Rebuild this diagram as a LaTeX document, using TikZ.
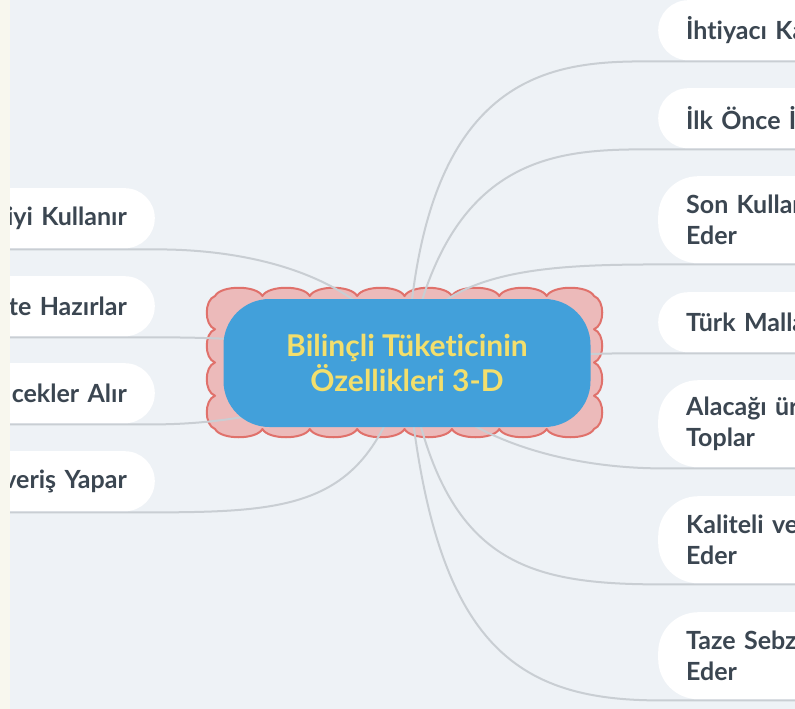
\documentclass[tikz,border=0pt]{standalone}
\usepackage{fontspec}
\setmainfont{Lato}[Ligatures=NoCommon]
\definecolor{bgc}{HTML}{EEF2F6}
\definecolor{stripc}{HTML}{F8F7EE}
\definecolor{linec}{HTML}{C9CED3}
\definecolor{txtc}{HTML}{3B4651}
\definecolor{rootblue}{HTML}{42A0DA}
\definecolor{rootyel}{HTML}{F3DF6C}
\definecolor{cloudfill}{HTML}{ECBABA}
\definecolor{cloudline}{HTML}{E0716B}
\pgfdeclarelayer{back}
\pgfdeclarelayer{mid}
\pgfsetlayers{back,mid,main}
\tikzset{
  pill/.style={fill=white, text=txtc, font=\bfseries\fontsize{25}{31}\selectfont,
    text width=200pt, inner xsep=28pt, inner ysep=0pt},
  pillone/.style={pill, rounded corners=30pt, minimum height=60pt},
  pilltwo/.style={pill, rounded corners=40pt, minimum height=87pt},
  rpill/.style={align=left, anchor=north west},
  lpill/.style={align=right, anchor=north east},
  conn/.style={draw=linec, line width=2pt},
  rootnode/.style={fill=rootblue, text=rootyel, rounded corners=46pt,
    minimum width=367pt, minimum height=128pt, inner sep=0pt, align=center,
    font=\bfseries\fontsize{30}{35}\selectfont},
  cloudshape/.style={draw=cloudline, fill=cloudfill, line width=2pt, line join=round}
}
\begin{document}
\begin{tikzpicture}[x=1pt,y=-1pt]
\useasboundingbox (0,0) rectangle (795,709);
\node[rootnode] (root) at (407,363) {Bilinçli Tüketicinin\\Özellikleri 3-D};
% right pills
\node[pillone,rpill] (r1) at (658,0) {İhtiyacı Ka};
\node[pillone,rpill] (r2) at (658,88) {İlk Önce İ};
\node[pilltwo,rpill] (r3) at (658,176) {Son Kullan\\Eder};
\node[pillone,rpill] (r4) at (658,292) {Türk Malla};
\node[pilltwo,rpill] (r5) at (658,380) {Alacağı ür\\Toplar};
\node[pilltwo,rpill] (r6) at (658,496) {Kaliteli ve\\Eder};
\node[pilltwo,rpill] (r7) at (658,612) {Taze Sebz\\Eder};
% left pills
\node[pillone,lpill] (l1) at (155,188) {iyi Kullanır};
\node[pillone,lpill] (l2) at (155,276) {te Hazırlar};
\node[pillone,lpill] (l3) at (155,363) {cekler Alır};
\node[pillone,lpill] (l4) at (155,451) {veriş Yapar};
\begin{pgfonlayer}{back}
  \fill[bgc] (0,0) rectangle (795,709);
  \path[cloudshape] (215,296)
    foreach \i in {0,...,7} { .. controls ({215+\i*47.375+6},285) and ({215+(\i+1)*47.375-6},285) .. ({215+(\i+1)*47.375},296) }
    foreach \i in {0,...,3} { .. controls (605,{296+\i*33.25+4}) and (605,{296+(\i+1)*33.25-4}) .. (594,{296+(\i+1)*33.25}) }
    foreach \i in {0,...,7} { .. controls ({594-\i*47.375-6},440) and ({594-(\i+1)*47.375+6},440) .. ({594-(\i+1)*47.375},429) }
    foreach \i in {0,...,3} { .. controls (204,{429-\i*33.25-4}) and (204,{429-(\i+1)*33.25+4}) .. (215,{429-(\i+1)*33.25}) }
    -- cycle;
\end{pgfonlayer}
\begin{pgfonlayer}{mid}
  \draw[conn] (root.center) .. controls (420,61) and (560,61) .. ([yshift=-1pt]r1.south west) -- ([yshift=-1pt]r1.south east);
  \draw[conn] (root.center) .. controls (445,149) and (560,149) .. ([yshift=-1pt]r2.south west) -- ([yshift=-1pt]r2.south east);
  \draw[conn] (root.center) .. controls (420,265) and (560,265) .. ([yshift=-1pt]r3.south west) -- ([yshift=-1pt]r3.south east);
  \draw[conn] (root.center) .. controls (450,362) and (560,352) .. ([yshift=-1pt]r4.south west) -- ([yshift=-1pt]r4.south east);
  \draw[conn] (root.center) .. controls (440,425) and (540,467) .. ([yshift=-1pt]r5.south west) -- ([yshift=-1pt]r5.south east);
  \draw[conn] (root.center) .. controls (440,560) and (520,584) .. ([yshift=-1pt]r6.south west) -- ([yshift=-1pt]r6.south east);
  \draw[conn] (root.center) .. controls (430,640) and (510,700) .. ([yshift=-1pt]r7.south west) -- ([yshift=-1pt]r7.south east);
  \draw[conn] (root.center) .. controls (370,280) and (260,249) .. ([yshift=-1pt]l1.south east) -- ([yshift=-1pt]l1.south west);
  \draw[conn] (root.center) .. controls (330,345) and (250,337) .. ([yshift=-1pt]l2.south east) -- ([yshift=-1pt]l2.south west);
  \draw[conn] (root.center) .. controls (330,400) and (250,424) .. ([yshift=-1pt]l3.south east) -- ([yshift=-1pt]l3.south west);
  \draw[conn] (root.center) .. controls (370,505) and (300,512) .. ([yshift=-1pt]l4.south east) -- ([yshift=-1pt]l4.south west);
\end{pgfonlayer}
\fill[stripc] (0,0) rectangle (10,709);
\end{tikzpicture}
\end{document}
